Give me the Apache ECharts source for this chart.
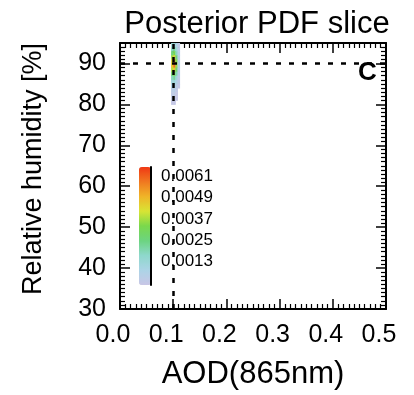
<!DOCTYPE html>
<html>
<head>
<meta charset="utf-8">
<script src="https://cdn.jsdelivr.net/npm/echarts@6/dist/echarts.min.js"></script>
<style>
  html, body { margin: 0; padding: 0; background: #fff; }
  #chart { width: 414px; height: 395px; }
</style>
</head>
<body>
<div id="chart"></div>
<script>
// Posterior PDF slice: AOD(865nm) vs relative humidity
const aodBins = [0.098, 0.102, 0.106, 0.110];      // cell centres, AOD
const aodStep = 0.004;
const rhBins = [94.5, 93.5, 92.5, 91.5, 90.5, 89.5, 88.5, 87.5,
                86.5, 85.5, 84.5, 83.5, 82.5, 81.5, 80.5]; // cell centres, %
const rhStep = 1;
// PDF values, one row per RH bin, one column per AOD bin
const pdfRows = [
  [0.0012, 0.0014, 0.0008, 0.0002],
  [0.0018, 0.0022, 0.0012, 0.0003],
  [0.0026, 0.0032, 0.0018, 0.0004],
  [0.0036, 0.0044, 0.0026, 0.0005],
  [0.0044, 0.0054, 0.0034, 0.0006],
  [0.0046, 0.0058, 0.0036, 0.0006],
  [0.0038, 0.0046, 0.0028, 0.0005],
  [0.0028, 0.0034, 0.0020, 0.0004],
  [0.0018, 0.0022, 0.0012, 0.0003],
  [0.0011, 0.0013, 0.0007, 0.0002],
  [0.0007, 0.0008, 0.0004, 0.0001],
  [0.0004, 0.0005, 0.0002, 0],
  [0.0003, 0.0003, 0.0001, 0],
  [0.0002, 0.0002, 0.0001, 0],
  [0.0001, 0.0001, 0, 0]
];
const refAod = 0.1;       // dashed reference lines
const refRh = 90;
const cbarTicks = [0.0013, 0.0025, 0.0037, 0.0049, 0.0061];
const cbarMax = 0.0066;

const cells = [];
rhBins.forEach((rh, i) => {
  aodBins.forEach((aod, j) => {
    if (pdfRows[i][j] > 0) cells.push([aod, rh, pdfRows[i][j]]);
  });
});

const FONT = 'Liberation Sans, Arial, Helvetica, sans-serif';
const TICK_FONT = 25;

const tickStyle = {
  show: true, inside: true, length: 10,
  lineStyle: { color: '#000', width: 1.5 }
};
const minorStyle = {
  show: true, splitNumber: 10, length: 5,
  lineStyle: { color: '#000', width: 1.2 }
};

function mainXAxis(pos, labels) {
  return {
    type: 'value', gridIndex: 0, position: pos,
    min: 0, max: 0.5, interval: 0.1,
    axisLine: { show: true, onZero: false, lineStyle: { color: '#000', width: 2 } },
    axisTick: tickStyle,
    minorTick: minorStyle,
    splitLine: { show: false },
    axisLabel: labels ? {
      show: true, margin: 14, color: '#000', fontFamily: FONT, fontSize: TICK_FONT,
      padding: [0, 14, 0, 0],
      formatter: v => v.toFixed(1)
    } : { show: false },
    name: labels ? 'AOD(865nm)' : '',
    nameLocation: 'middle', nameGap: 50,
    nameTextStyle: { color: '#000', fontFamily: FONT, fontSize: 31 }
  };
}
function mainYAxis(pos, labels) {
  return {
    type: 'value', gridIndex: 0, position: pos,
    min: 30, max: 95, interval: 10,
    axisLine: { show: true, onZero: false, lineStyle: { color: '#000', width: 2 } },
    axisTick: tickStyle,
    minorTick: minorStyle,
    splitLine: { show: false },
    axisLabel: labels ? {
      show: true, margin: 14, color: '#000', fontFamily: FONT, fontSize: TICK_FONT,
      showMaxLabel: false, padding: [6, 0, 0, 0]
    } : { show: false },
    name: labels ? 'Relative humidity [%]' : '',
    nameLocation: 'middle', nameGap: 73, nameRotate: 90,
    nameTextStyle: { color: '#000', fontFamily: FONT, fontSize: 27, padding: [0, 0, 0, 14] }
  };
}

const chart = echarts.init(document.getElementById('chart'), null, { renderer: 'canvas' });
chart.setOption({
  backgroundColor: '#fff',
  animation: false,
  title: {
    text: 'Posterior PDF slice', left: 252, top: 4, textAlign: 'center',
    textStyle: { color: '#000', fontFamily: FONT, fontSize: 31, fontWeight: 'normal' }
  },
  grid: [
    { left: 120, top: 43, width: 266, height: 266 },
    { left: 139, top: 167, width: 12, height: 118 }
  ],
  xAxis: [
    mainXAxis('bottom', true),
    mainXAxis('top', false),
    { type: 'value', gridIndex: 1, min: 0, max: 1, show: false }
  ],
  yAxis: [
    mainYAxis('left', true),
    mainYAxis('right', false),
    {
      type: 'value', gridIndex: 1, position: 'right', min: 0, max: cbarMax, z: 10,
      axisLine: { show: true, onZero: false, lineStyle: { color: '#000', width: 2 } },
      axisTick: { show: false },
      splitLine: { show: false },
      axisLabel: {
        show: true, margin: 10, color: '#000', fontFamily: FONT, fontSize: 17,
        customValues: cbarTicks, formatter: v => v.toFixed(4)
      }
    }
  ],
  visualMap: {
    type: 'continuous', seriesIndex: 0, dimension: 2,
    min: 0, max: cbarMax, z: 1,
    left: 139, top: 167, padding: 0, align: 'left',
    itemWidth: 12, itemHeight: 118,
    calculable: false, showLabel: false, hoverLink: false,
    inRange: {
      color: ['#c8c6e6', '#acd4e6', '#8ed8cc', '#6cd480', '#7ad84c',
              '#d8e434', '#f0b428', '#f07820', '#f03814']
    }
  },
  series: [
    {
      type: 'custom', xAxisIndex: 0, yAxisIndex: 0,
      dimensions: ['aod', 'rh', 'pdf'],
      encode: { x: 0, y: 1 },
      data: cells,
      renderItem: function (params, api) {
        const x = api.value(0), y = api.value(1);
        const p0 = api.coord([x - aodStep / 2, y + rhStep / 2]);
        const p1 = api.coord([x + aodStep / 2, y - rhStep / 2]);
        return {
          type: 'rect',
          shape: { x: p0[0], y: p0[1], width: p1[0] - p0[0] + 0.5, height: p1[1] - p0[1] + 0.5 },
          style: { fill: api.visual('color') }
        };
      },
      markLine: {
        silent: true, symbol: 'none', z: 10,
        label: { show: false },
        lineStyle: { color: '#000', type: [5, 8], width: 2.5 },
        data: [{ xAxis: refAod }, { yAxis: refRh }]
      },
      z: 2
    }
  ],
  graphic: [
    {
      type: 'text', left: 358, top: 60,
      style: { text: 'C', fill: '#000', font: 'bold 26px ' + FONT }
    }
  ]
});
</script>
</body>
</html>
